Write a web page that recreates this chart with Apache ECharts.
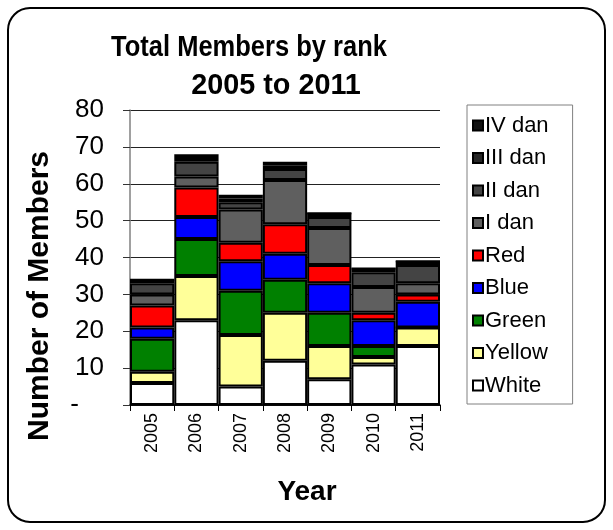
<!DOCTYPE html>
<html>
<head>
<meta charset="utf-8">
<script src="https://cdn.jsdelivr.net/npm/echarts@6/dist/echarts.min.js"></script>
<style>
  html, body { margin: 0; padding: 0; background: #fff; }
  #chart { width: 613px; height: 530px; }
</style>
</head>
<body>
<div id="chart"></div>
<script>
// Membership counts per rank, stacked from the bottom up
const years = ['2005', '2006', '2007', '2008', '2009', '2010', '2011'];
const white  = [6, 23, 5, 12, 7, 11, 16];
const yellow = [3, 12, 14, 13, 9, 2, 5];
const green  = [9, 10, 12, 9, 9, 3, 0];
const blue   = [3, 6, 8, 7, 8, 7, 7];
const red    = [6, 8, 5, 8, 5, 2, 2];
const dan1   = [3, 3, 9, 12, 10, 7, 3];
const dan2   = [3, 4, 2, 3, 3, 4, 5];
const dan3   = [1, 1, 1, 1, 1, 1, 1];
const dan4   = [0, 1, 1, 1, 0, 0, 0];
const yTicks = [0, 10, 20, 30, 40, 50, 60, 70, 80];

const titleLines = ['Total Members by rank', '2005 to 2011'];
const yTitle = 'Number of Members';
const xTitle = 'Year';

const rankSeries = [
  { name: 'White',   data: white,  color: '#ffffff' },
  { name: 'Yellow',  data: yellow, color: '#ffff99' },
  { name: 'Green',   data: green,  color: '#008000' },
  { name: 'Blue',    data: blue,   color: '#0000ff' },
  { name: 'Red',     data: red,    color: '#ff0000' },
  { name: 'I dan',   data: dan1,   color: '#5f5f5f' },
  { name: 'II dan',  data: dan2,   color: '#444444' },
  { name: 'III dan', data: dan3,   color: '#262626' },
  { name: 'IV dan',  data: dan4,   color: '#111111' }
];

const font = 'Arial, "Liberation Sans", sans-serif';
const bold = size => 'bold ' + size + 'px ' + font;
const chart = echarts.init(document.getElementById('chart'));

// Free-standing headings: chart title, axis titles and the rounded frame
const headings = [
  {
    type: 'rect',
    shape: { x: 8, y: 8, width: 597, height: 514, r: 22 },
    style: { fill: 'none', stroke: '#000', lineWidth: 2 },
    z: 100
  },
  {
    type: 'text', x: 249, y: 48, scaleX: 0.85,
    style: { text: titleLines[0], font: bold(30), fill: '#000', align: 'center', verticalAlign: 'middle' }
  },
  {
    type: 'text', x: 276, y: 86, scaleX: 0.96,
    style: { text: titleLines[1], font: bold(30), fill: '#000', align: 'center', verticalAlign: 'middle' }
  },
  {
    type: 'text', x: 40, y: 296, rotation: Math.PI / 2,
    style: { text: yTitle, font: bold(30), fill: '#000', align: 'center', verticalAlign: 'middle' }
  },
  {
    type: 'text', x: 307, y: 492,
    style: { text: xTitle, font: bold(28), fill: '#000', align: 'center', verticalAlign: 'middle' }
  }
];

chart.setOption({
  animation: false,
  backgroundColor: '#ffffff',
  graphic: headings,
  legend: {
    orient: 'vertical',
    left: 467,
    top: 105,
    padding: [8, 24, 6, 5],
    borderColor: '#808080',
    borderWidth: 1,
    itemWidth: 10,
    itemHeight: 10,
    itemGap: 7.5,
    icon: 'rect',
    data: rankSeries.map(s => s.name).reverse(),
    textStyle: { fontFamily: font, fontSize: 22, color: '#000', padding: [0, 0, 0, -3], lineHeight: 25 }
  },
  grid: { left: 130, right: 173, top: 110, bottom: 125 },
  xAxis: {
    type: 'category',
    data: years,
    axisLine: { lineStyle: { color: '#000', width: 1.5 } },
    axisTick: { show: true, length: 6, lineStyle: { color: '#000' } },
    axisLabel: { rotate: 90, margin: 8, fontFamily: font, fontSize: 18, color: '#000' }
  },
  yAxis: {
    type: 'value',
    min: yTicks[0],
    max: yTicks[yTicks.length - 1],
    interval: 10,
    axisLine: { show: true, lineStyle: { color: '#808080', width: 1.5 } },
    axisTick: { show: true, inside: false, length: 7, lineStyle: { color: '#333' } },
    splitLine: { show: true, lineStyle: { color: '#222', width: 1 } },
    axisLabel: {
      margin: 26,
      fontFamily: font,
      fontSize: 26,
      color: '#000',
      // zero is shown as an accounting-style dash, set in from the right
      formatter: v => (v === 0 ? '{dash|-}' : String(v)),
      rich: { dash: { fontFamily: font, fontSize: 26, color: '#000', padding: [0, 25, 0, 0] } }
    }
  },
  series: rankSeries.map(s => ({
    name: s.name,
    type: 'bar',
    stack: 'members',
    data: s.data,
    barCategoryGap: '0%',
    itemStyle: { color: s.color, borderColor: '#000', borderWidth: 2 }
  }))
});
</script>
</body>
</html>
